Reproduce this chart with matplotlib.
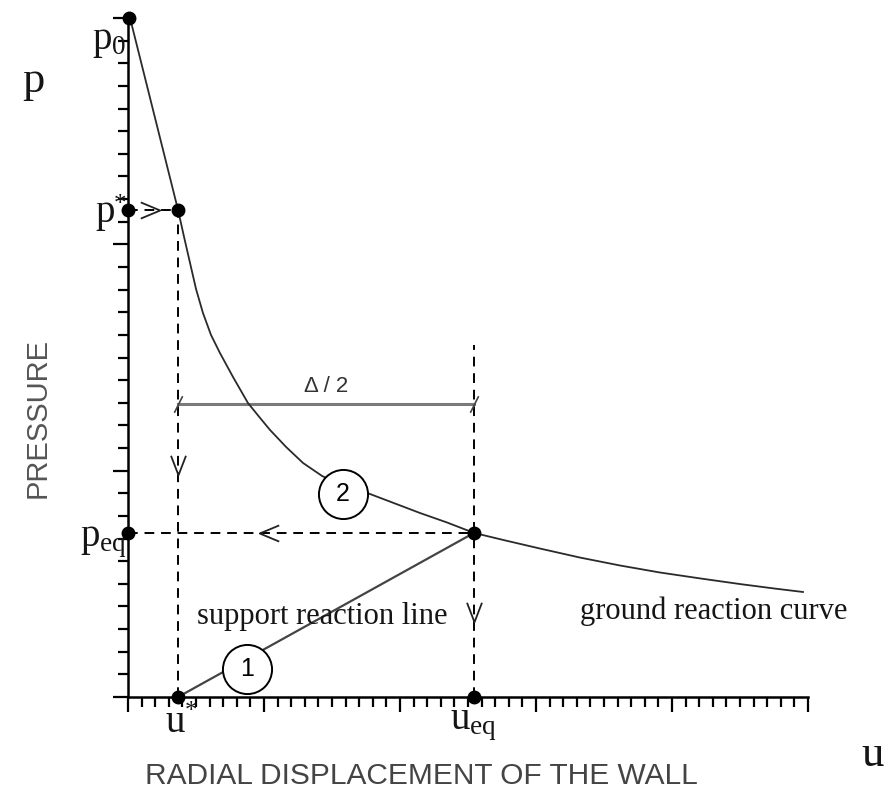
import numpy as np
import matplotlib.pyplot as plt
from matplotlib.ticker import MultipleLocator

plt.rcParams['mathtext.fontset'] = 'custom'
plt.rcParams['mathtext.rm'] = 'Liberation Serif'
plt.rcParams['mathtext.it'] = 'Liberation Serif:italic'

# ground reaction curve (u, p), read point by point
curve_u = [0.15, 3.68, 4.12, 4.56, 5.0, 5.51, 6.10, 6.76, 7.72, 8.82, 9.71,
           10.44, 11.62, 12.87, 14.26, 15.81, 17.79, 19.63, 21.47, 23.46, 25.44,
           27.72, 30.29, 33.24, 36.18, 39.12, 42.06, 45.0, 47.57, 49.63]
curve_p = [30.0, 21.52, 20.33, 19.18, 18.03, 16.97, 16.00, 15.20, 14.14, 12.99, 12.33,
           11.80, 11.05, 10.34, 9.77, 9.32, 8.97, 8.55, 8.13, 7.71, 7.25,
           6.92, 6.56, 6.16, 5.81, 5.50, 5.24, 4.99, 4.79, 4.64]

p0 = 30.0
p_star = 21.52
p_eq = 7.25
u_star = 3.68
u_eq = 25.44
ueq_line_top = 15.55
delta_level = 12.95

serif = 'Liberation Serif'
sans = 'Liberation Sans'
ink = '#151515'

fig = plt.figure(figsize=(8.89, 7.91), dpi=100)
ax = fig.add_axes([128 / 889, 94 / 791, 680 / 889, 679 / 791])
ax.set_xlim(0, 50)
ax.set_ylim(0, 30)

for side in ['top', 'right']:
    ax.spines[side].set_visible(False)
for side in ['left', 'bottom']:
    ax.spines[side].set_linewidth(1.8)

ax.xaxis.set_major_locator(MultipleLocator(10))
ax.xaxis.set_minor_locator(MultipleLocator(1))
ax.yaxis.set_major_locator(MultipleLocator(10))
ax.yaxis.set_minor_locator(MultipleLocator(1))
ax.tick_params(which='major', direction='out', length=11, width=1.6,
               labelbottom=False, labelleft=False)
ax.tick_params(which='minor', direction='out', length=7, width=1.6)

# curves
ax.plot(curve_u, curve_p, color='#2a2a2a', lw=1.3, zorder=3)
ax.plot([u_star, u_eq], [0, p_eq], color='#444444', lw=1.6, zorder=3)

# dashed construction lines
dash = dict(color='black', lw=1.4, ls=(0, (5, 3.5)), zorder=2)
ax.plot([0, u_star], [p_star, p_star], **dash)
ax.plot([u_star, u_star], [0, p_star], **dash)
ax.plot([0, u_eq], [p_eq, p_eq], **dash)
ax.plot([u_eq, u_eq], [0, ueq_line_top], **dash)

# open chevron heads on the dashed lines
chev_down = [(-1, 1.3), (0, -1.3), (1, 1.3)]
chev_right = [(-1.2, 1), (1.2, 0), (-1.2, -1)]
chev_left = [(1.2, 1), (-1.2, 0), (1.2, -1)]
head = dict(ms=14, mfc='none', mec='#222222', mew=1.3, ls='none', zorder=4)
ax.plot([u_star], [10.25], marker=chev_down, **head)
ax.plot([u_eq], [3.75], marker=chev_down, **head)
ax.plot([1.6], [p_star], marker=chev_right, **head)
ax.plot([10.4], [p_eq], marker=chev_left, **head)

# delta / 2 dimension line
ax.plot([u_star, u_eq], [delta_level, delta_level], color='#7a7a7a', lw=2.2, zorder=2)
ax.plot([u_star, u_eq], [delta_level, delta_level], marker=[(-0.5, -1), (0.5, 1)],
        ms=12, mec='#444444', mew=1.2, ls='none', zorder=4)
ax.text((u_star + u_eq) / 2, delta_level + 0.3, '\u0394 / 2', ha='center', va='bottom',
        fontsize=16, family=sans, color='#333333')

# key points
dots_u = [0.1, 0, u_star, 0, u_eq, u_star, u_eq]
dots_p = [p0, p_star, p_star, p_eq, p_eq, 0, 0]
ax.plot(dots_u, dots_p, 'o', ms=9, color='black', zorder=6, clip_on=False)

# numbered circles
circ_u = [8.75, 15.8]
circ_p = [1.24, 8.97]
circ_lab = ['1', '2']
ax.scatter(circ_u, circ_p, s=1250, facecolor='white', edgecolor='black', lw=1.4, zorder=5)
for cu, cp, lab in zip(circ_u, circ_p, circ_lab):
    ax.text(cu, cp, lab, ha='center', va='center', fontsize=18, family=sans, zorder=7)

ax.text(5.07, 3.54, 'support reaction line', ha='left', va='center',
        fontsize=22, family=serif, color=ink)
ax.text(33.2, 3.8, 'ground reaction curve', ha='left', va='center',
        fontsize=22, family=serif, color=ink)

# axis point labels
lab = dict(fontsize=28, color=ink, clip_on=False)
ax.text(-0.15, 29.0, r'$\mathrm{p_0}$', ha='right', va='center', **lab)
ax.text(-1.0, 21.4, 'p', ha='right', va='center', family=serif, **lab)
ax.text(-0.6, 21.75, '*', ha='center', va='center', family=serif, fontsize=18,
        color=ink, clip_on=False)
ax.text(-0.1, 6.9, r'$\mathrm{p_{eq}}$', ha='right', va='center', **lab)
ax.text(3.5, -0.3, 'u', ha='center', va='top', family=serif, **lab)
ax.text(4.65, -0.65, '*', ha='center', va='center', family=serif, fontsize=18,
        color=ink, clip_on=False)
ax.text(u_eq, -0.35, r'$\mathrm{u_{eq}}$', ha='center', va='top', **lab)

# axis titles
fig.text(33 / 889, 1 - 81 / 791, 'p', ha='center', va='center', fontsize=32,
         family=serif, color=ink)
fig.text(873 / 889, 1 - 755 / 791, 'u', ha='center', va='center', fontsize=32,
         family=serif, color=ink)
fig.text(38 / 889, 1 - 418 / 791, 'PRESSURE', rotation=90, ha='center', va='center',
         fontsize=21, family=sans, color='#555555')
fig.text(421 / 889, 1 - 776 / 791, 'RADIAL DISPLACEMENT OF THE WALL', ha='center',
         va='center', fontsize=21.5, family=sans, color='#444444')

fig.savefig('out.png', dpi=100)
